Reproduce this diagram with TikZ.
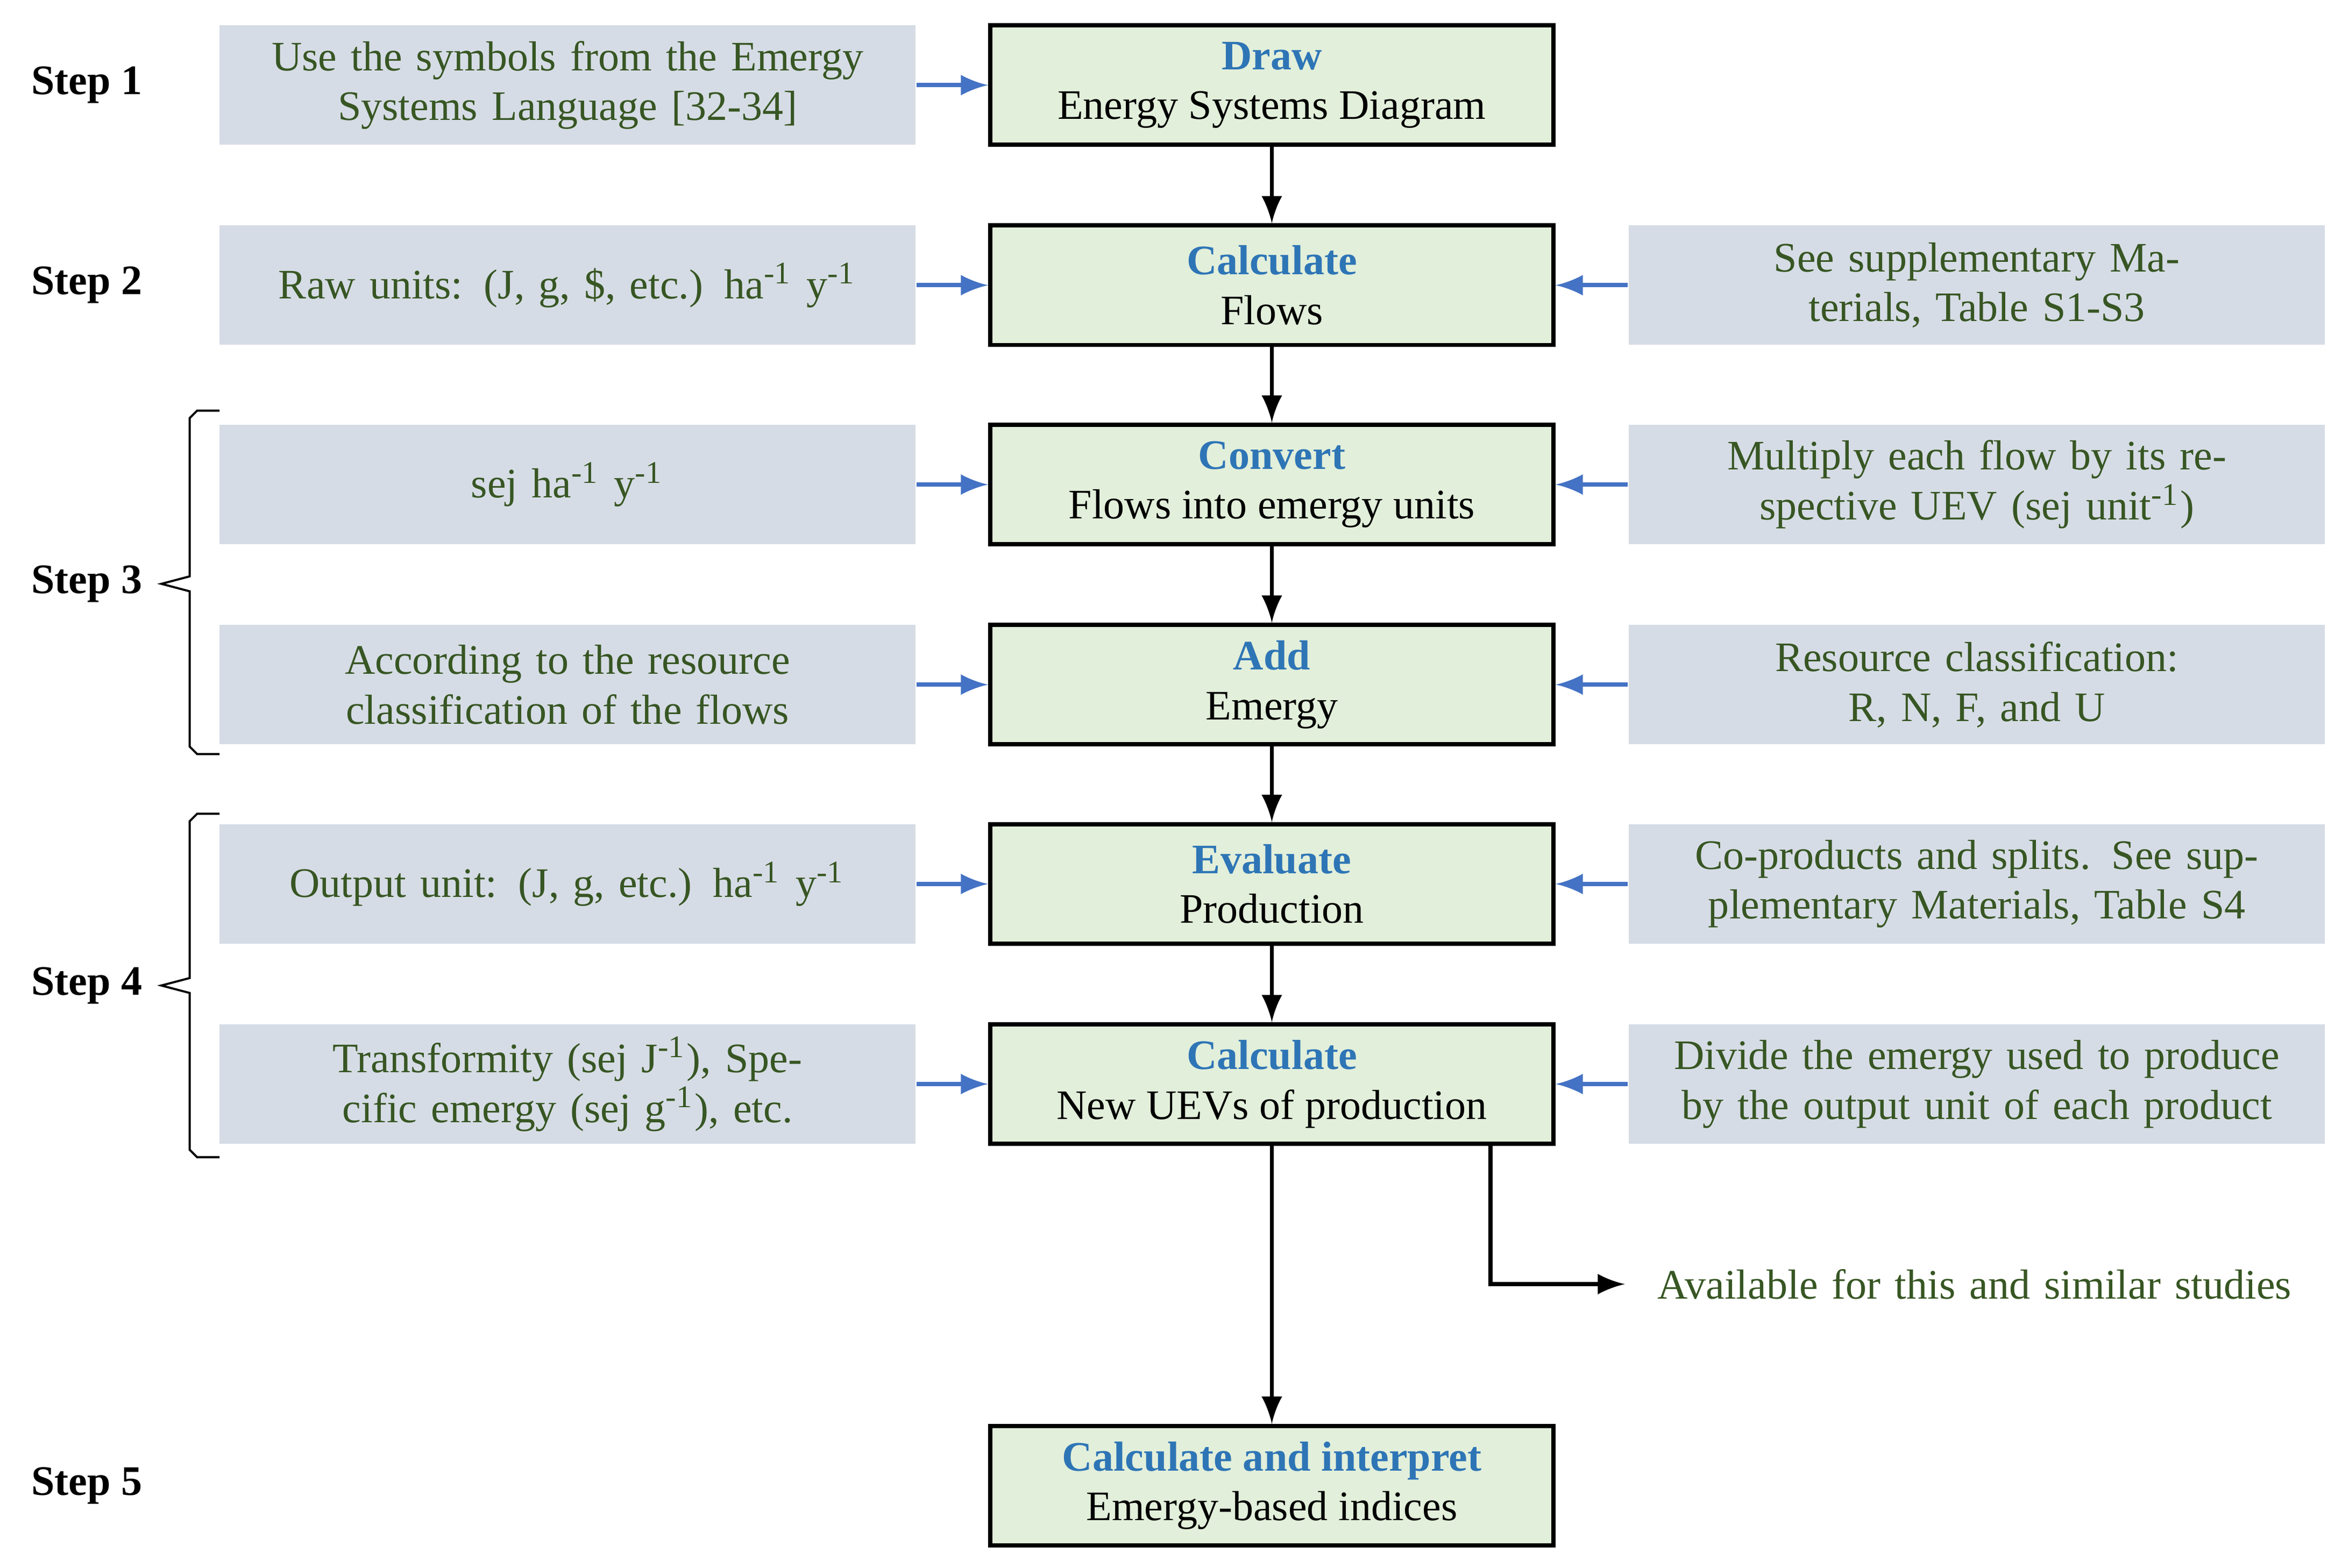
\documentclass[tikz,border=0pt]{standalone}
\usepackage{fontspec}
\setmainfont{Liberation Serif}
\usetikzlibrary{decorations.pathreplacing}
\definecolor{boxgray}{HTML}{D6DCE5}
\definecolor{boxgreen}{HTML}{E2EFDA}
\definecolor{titleblue}{HTML}{2E75B6}
\definecolor{textgreen}{HTML}{375623}
\definecolor{arrowblue}{HTML}{4472C4}
\newcommand{\sups}[1]{\textsuperscript{#1}}
\begin{document}
\begin{tikzpicture}[font=\footnotesize,
	info/.style={fill=boxgray, text=textgreen, minimum width=4.66cm, minimum height=0.8cm, text width=4.5cm, align=center, inner sep=0pt},
	stage/.style={draw, thick, fill=boxgreen, minimum width=3.77cm, minimum height=0.8cm, align=center, inner sep=0pt},
	steplbl/.style={font=\footnotesize\bfseries},
	feed/.style={->, >=latex, thick, arrowblue},
	flow/.style={->, >=latex, thick}]
	\useasboundingbox (0,0) rectangle (15.68,-10.5);

	% Step labels
	\node[steplbl] (s1) at (0.58,-0.57) {Step 1};
	\node[steplbl] (s2) at (0.58,-1.91) {Step 2};
	\node[steplbl] (s3) at (0.58,-3.91) {Step 3};
	\node[steplbl] (s4) at (0.58,-6.60) {Step 4};
	\node[steplbl] (s5) at (0.58,-9.95) {Step 5};
	\draw[thin] (1.47,-2.75) -- (1.32,-2.75) -- (1.27,-2.8) -- (1.27,-3.86) -- (1.08,-3.91) -- (1.27,-3.96) -- (1.27,-5.0) -- (1.32,-5.05) -- (1.47,-5.05);
	\draw[thin] (1.47,-5.45) -- (1.32,-5.45) -- (1.27,-5.5) -- (1.27,-6.55) -- (1.08,-6.60) -- (1.27,-6.65) -- (1.27,-7.7) -- (1.32,-7.75) -- (1.47,-7.75);

	% Centre column
	\node[stage] (draw) at (8.515,-0.57) {\textcolor{titleblue}{\bfseries Draw}\\Energy Systems Diagram};
	\node[stage] (flows) at (8.515,-1.91) {\textcolor{titleblue}{\bfseries Calculate}\\Flows};
	\node[stage] (convert) at (8.515,-3.245) {\textcolor{titleblue}{\bfseries Convert}\\Flows into emergy units};
	\node[stage] (add) at (8.515,-4.585) {\textcolor{titleblue}{\bfseries Add}\\Emergy};
	\node[stage] (eval) at (8.515,-5.92) {\textcolor{titleblue}{\bfseries Evaluate}\\Production};
	\node[stage] (uev) at (8.515,-7.26) {\textcolor{titleblue}{\bfseries Calculate}\\New UEVs of production};
	\node[stage] (indices) at (8.515,-9.95) {\textcolor{titleblue}{\bfseries Calculate and interpret}\\Emergy-based indices};

	% Left column
	\node[info] (l1) at (3.80,-0.57) {Use the symbols from the Emergy Systems Language [32-34]};
	\node[info] (l2) at (3.80,-1.91) {Raw units: (J, g, \$, etc.) ha\sups{-1} y\sups{-1}};
	\node[info] (l3) at (3.80,-3.245) {sej ha\sups{-1} y\sups{-1}};
	\node[info] (l4) at (3.80,-4.585) {According to the resource classification of the flows};
	\node[info] (l5) at (3.80,-5.92) {Output unit: (J, g, etc.) ha\sups{-1} y\sups{-1}};
	\node[info] (l6) at (3.80,-7.26) {Transformity (sej J\sups{-1}), Specific emergy (sej g\sups{-1}), etc.};

	% Right column
	\node[info] (r2) at (13.235,-1.91) {See supplementary Materials, Table S1-S3};
	\node[info] (r3) at (13.235,-3.245) {Multiply each flow by its respective UEV (sej unit\sups{-1})};
	\node[info] (r4) at (13.235,-4.585) {Resource classification:\\R, N, F, and U};
	\node[info] (r5) at (13.235,-5.92) {Co-products and splits. See supplementary Materials, Table S4};
	\node[info] (r6) at (13.235,-7.26) {Divide the emergy used to produce by the output unit of each product};
	\node[text=textgreen, text width=4.5cm, align=center] (avail) at (13.22,-8.6) {Available for this and similar studies};

	% Connectors
	\foreach \a/\b in {draw/flows, flows/convert, convert/add, add/eval, eval/uev, uev/indices}
		\draw[flow] (\a) -- (\b);
	\foreach \a/\b in {l1/draw, l2/flows, l3/convert, l4/add, l5/eval, l6/uev}
		\draw[feed] (\a) -- (\b);
	\foreach \a/\b in {r2/flows, r3/convert, r4/add, r5/eval, r6/uev}
		\draw[feed] (\a) -- (\b);
	\coordinate (split) at (9.98,-7.66);
	\draw[flow] (split) -- (9.98,-8.6) -- (10.88,-8.6);
\end{tikzpicture}
\end{document}
